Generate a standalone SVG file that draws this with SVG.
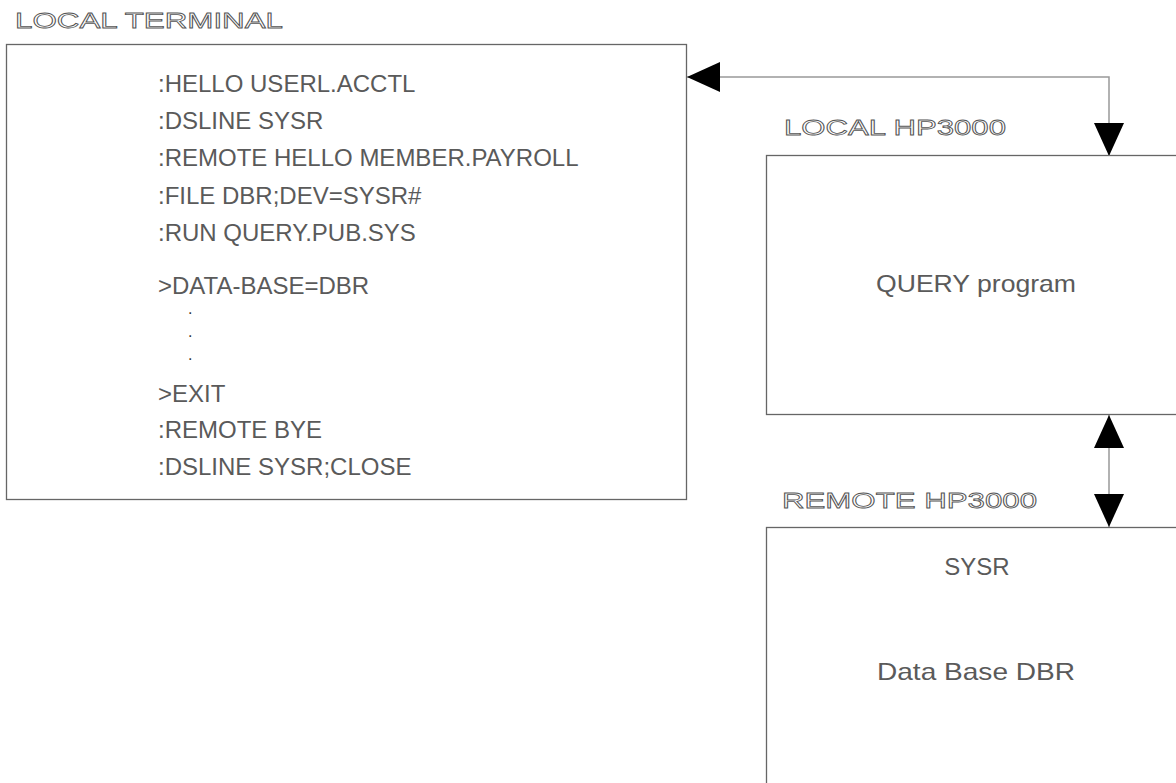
<svg xmlns="http://www.w3.org/2000/svg" width="1176" height="783" viewBox="0 0 1176 783">
  <style>
    .box { fill: #ffffff; stroke: #666666; stroke-width: 1.3; }
    .hdr { font-family: "Liberation Sans", Arial, sans-serif; font-size: 22px; fill: #ffffff; stroke: #555555; stroke-width: 0.8; }
    .txt { font-family: "Liberation Sans", Arial, sans-serif; font-size: 24px; fill: #5a5a5a; }
    .dot { font-family: "Liberation Sans", Arial, sans-serif; font-size: 16px; fill: #333333; }
    .conn { fill: none; stroke: #999999; stroke-width: 1.5; }
  </style>
  <defs>
    <marker id="arrow" viewBox="0 0 33 30" refX="33" refY="15" markerWidth="33" markerHeight="30" markerUnits="userSpaceOnUse" orient="auto-start-reverse">
      <path d="M0,0 L33,15 L0,30 Z" fill="#000000"/>
    </marker>
  </defs>
  <rect width="1176" height="783" fill="#ffffff"/>

  <g id="local-terminal">
    <text class="hdr" x="15" y="28" textLength="268" lengthAdjust="spacingAndGlyphs">LOCAL TERMINAL</text>
    <rect class="box" x="6.5" y="44.5" width="680" height="455"/>
    <text class="txt" x="158" y="92">:HELLO USERL.ACCTL</text>
    <text class="txt" x="158" y="129">:DSLINE SYSR</text>
    <text class="txt" x="158" y="166">:REMOTE HELLO MEMBER.PAYROLL</text>
    <text class="txt" x="158" y="204">:FILE DBR;DEV=SYSR#</text>
    <text class="txt" x="158" y="241">:RUN QUERY.PUB.SYS</text>
    <text class="txt" x="158" y="294">&gt;DATA-BASE=DBR</text>
    <text class="dot" x="188" y="314">.</text>
    <text class="dot" x="188" y="337">.</text>
    <text class="dot" x="188" y="360">.</text>
    <text class="txt" x="158" y="402">&gt;EXIT</text>
    <text class="txt" x="158" y="438">:REMOTE BYE</text>
    <text class="txt" x="158" y="475">:DSLINE SYSR;CLOSE</text>
  </g>

  <g id="local-hp3000">
    <text class="hdr" x="784" y="135" textLength="222" lengthAdjust="spacingAndGlyphs">LOCAL HP3000</text>
    <rect class="box" x="766.5" y="155.5" width="430" height="259"/>
    <text class="txt" x="976" y="292" text-anchor="middle" textLength="200" lengthAdjust="spacingAndGlyphs">QUERY program</text>
  </g>

  <g id="remote-hp3000">
    <text class="hdr" x="782" y="508" textLength="255" lengthAdjust="spacingAndGlyphs">REMOTE HP3000</text>
    <rect class="box" x="766.5" y="527.5" width="430" height="280"/>
    <text class="txt" x="977" y="575" text-anchor="middle">SYSR</text>
    <text class="txt" x="976" y="680" text-anchor="middle" textLength="198" lengthAdjust="spacingAndGlyphs">Data Base DBR</text>
  </g>

  <g id="connectors">
    <path class="conn" d="M687,77 H1109 V156" marker-start="url(#arrow)" marker-end="url(#arrow)"/>
    <path class="conn" d="M1109,415 V527" marker-start="url(#arrow)" marker-end="url(#arrow)"/>
  </g>
</svg>
